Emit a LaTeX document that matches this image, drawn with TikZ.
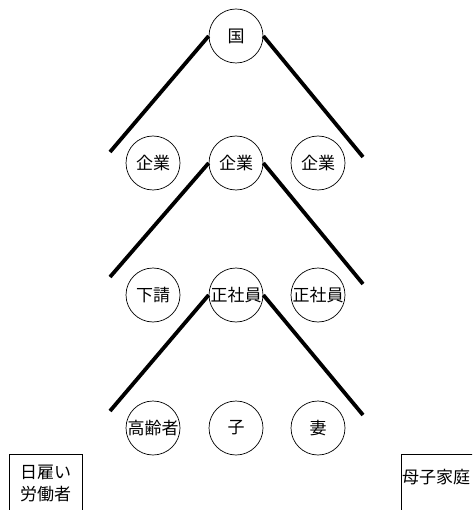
\documentclass[tikz,border=0pt]{standalone}
\usepackage{fontspec}
\setmainfont{Noto Sans CJK JP}
\begin{document}
\begin{tikzpicture}[x=1pt,y=-1pt,
  circ/.style={circle,draw,line width=0.7pt,minimum size=54pt,inner sep=0pt,font=\fontsize{17}{19}\selectfont},
  boxn/.style={draw,line width=0.7pt,inner sep=0pt,anchor=north west},
  txt/.style={font=\fontsize{17}{22}\selectfont,align=center,inner sep=0pt},
  heavy/.style={line width=3.8pt}]
\useasboundingbox (0,0) rectangle (472,510);
\clip (0,0) rectangle (472,510);
% row 1
\node[circ] (kuni) at (236,36) {国};
% row 2
\node[circ] (k1) at (153,163) {企業};
\node[circ] (k2) at (236,163) {企業};
\node[circ] (k3) at (318,163) {企業};
% row 3
\node[circ] (s1) at (153,295) {下請};
\node[circ] (s2) at (236,295) {正社員};
\node[circ] (s3) at (318,295) {正社員};
% row 4
\node[circ] (f1) at (153,428) {高齢者};
\node[circ] (f2) at (236,428) {子};
\node[circ] (f3) at (318,428) {妻};
% free ends
\coordinate (a1) at (110,152);
\coordinate (a2) at (363,157);
\coordinate (b1) at (110,277);
\coordinate (b2) at (363,284);
\coordinate (c1) at (110,411);
\coordinate (c2) at (363,415);
\draw[heavy] (kuni.west) -- (a1);
\draw[heavy] (kuni.east) -- (a2);
\draw[heavy] (k2.west) -- (b1);
\draw[heavy] (k2.east) -- (b2);
\draw[heavy] (s2.west) -- (c1);
\draw[heavy] (s2.east) -- (c2);
% boxes
\node[boxn,minimum width=73pt,minimum height=80pt] (hiyatoi) at (9,454) {};
\node[txt] (hiyatoitxt) at (45.5,484) {日雇い\\労働者};
\node[boxn,minimum width=90pt,minimum height=80pt] (boshi) at (401,454) {};
\node[txt,anchor=west] (boshitxt) at (402,477) {母子家庭};
\end{tikzpicture}
\end{document}
